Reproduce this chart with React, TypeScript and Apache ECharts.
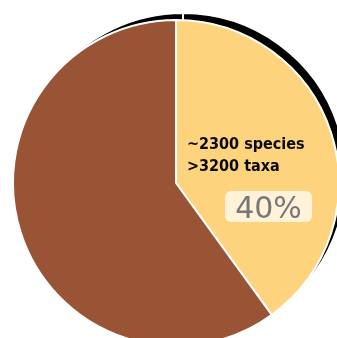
import React, { useEffect, useRef } from "react";
import * as echarts from "echarts";

// Share of the two groups in the pie
const sliceNames = ["Group A", "Group B"];
const sliceValues = [40, 60];
const sliceColors = ["#FDD47D", "#985434"];

// Annotation lines for the highlighted slice
const noteLines = ["~2300 species", ">3200 taxa"];

export default function App() {
  const ref = useRef<HTMLDivElement>(null);

  useEffect(() => {
    if (!ref.current) return;
    const chart = echarts.init(ref.current, null, { renderer: "svg" });
    const total = sliceValues.reduce((a, b) => a + b, 0);
    const pct = Math.round((sliceValues[0] / total) * 100);

    const data = sliceValues.map((v, i) => ({
      value: v,
      name: sliceNames[i],
      itemStyle: { color: sliceColors[i] },
    }));
    const shadowData = sliceValues.map((v, i) => ({
      value: v,
      name: sliceNames[i],
      itemStyle: { color: "#000000" },
    }));

    const noteStyle = {
      fontFamily: "DejaVu Sans Condensed",
      fontWeight: "bold",
      fontSize: 16,
      fill: "#0a0a0a",
      textVerticalAlign: "middle",
    };

    chart.setOption({
      animation: false,
      series: [
        {
          type: "pie",
          silent: true,
          z: 1,
          center: [183, 176],
          radius: 163,
          startAngle: 90,
          clockwise: true,
          label: { show: false },
          labelLine: { show: false },
          itemStyle: { borderColor: "#ffffff", borderWidth: 2 },
          data: shadowData,
        },
        {
          type: "pie",
          silent: true,
          z: 2,
          center: [176, 183],
          radius: 163,
          startAngle: 90,
          clockwise: true,
          label: { show: false },
          labelLine: { show: false },
          itemStyle: { borderColor: "#ffffff", borderWidth: 2 },
          data,
        },
      ],
      graphic: [
        {
          type: "text",
          z: 10,
          x: 187,
          y: 143,
          style: { ...noteStyle, text: noteLines[0] },
        },
        {
          type: "text",
          z: 10,
          x: 187,
          y: 165,
          style: { ...noteStyle, text: noteLines[1] },
        },
        {
          type: "rect",
          z: 10,
          shape: { x: 225, y: 191, width: 87, height: 31, r: 6 },
          style: { fill: "#FEF2D9" },
        },
        {
          type: "text",
          z: 11,
          x: 268.5,
          y: 207,
          style: {
            text: `${pct}%`,
            fontFamily: "DejaVu Sans",
            fontSize: 30,
            fill: "#777777",
            textAlign: "center",
            textVerticalAlign: "middle",
          },
        },
      ],
    });
    return () => chart.dispose();
  }, []);

  return (
    <div
      ref={ref}
      style={{ position: "fixed", left: 0, top: 0, width: 337, height: 338 }}
    />
  );
}
